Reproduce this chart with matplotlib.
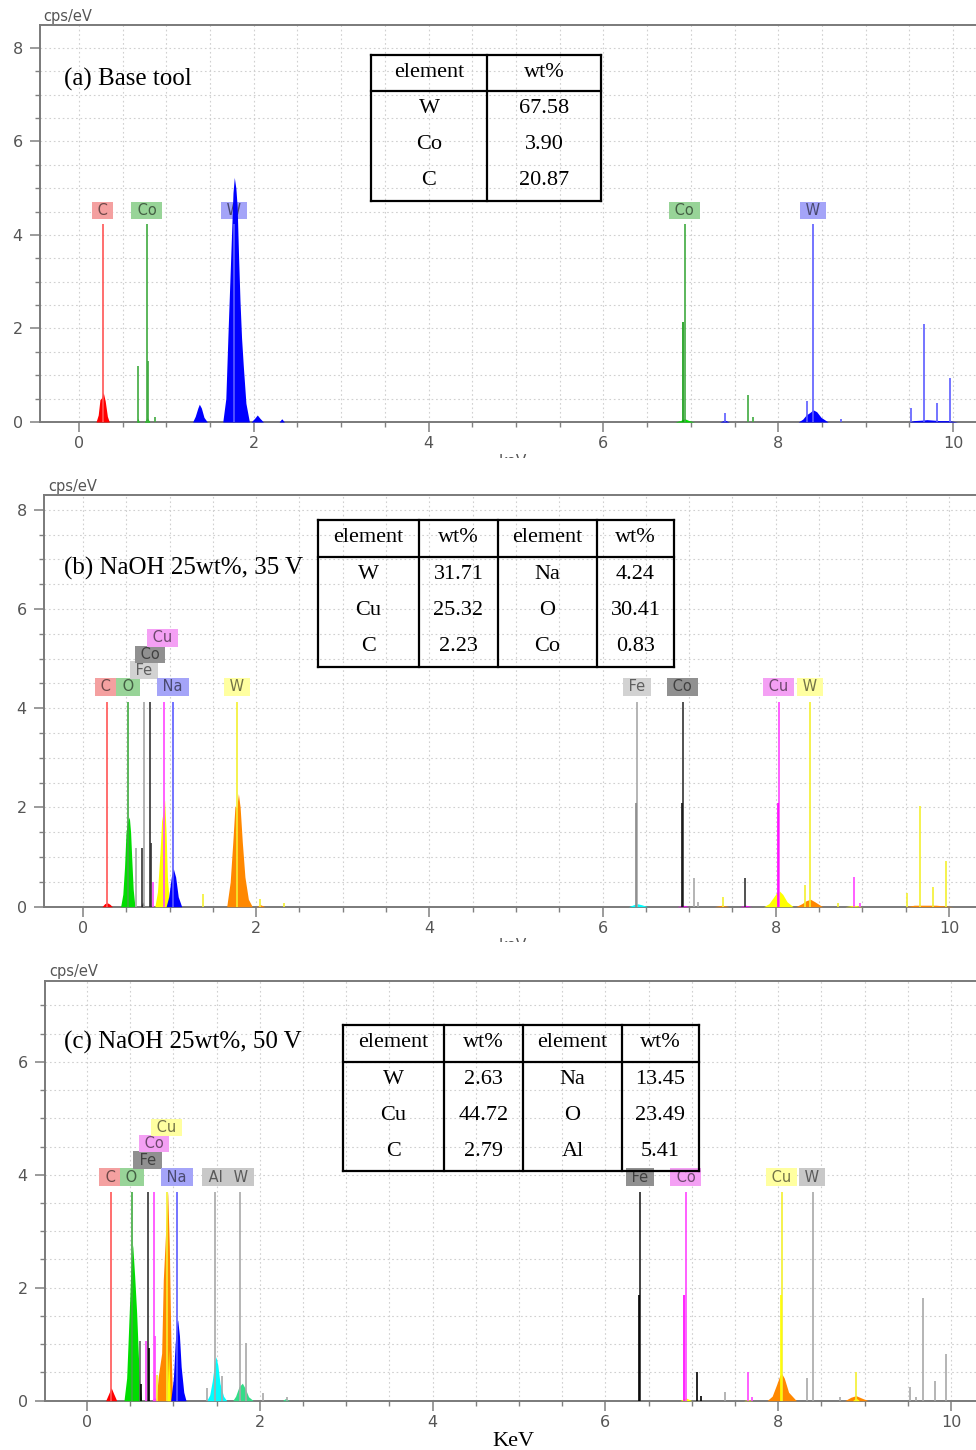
import matplotlib.pyplot as plt
import matplotlib.colors as mcolors
from matplotlib.lines import Line2D
from matplotlib.ticker import MultipleLocator
from matplotlib.transforms import Bbox, TransformedBbox

# ---------------- colours used by the EDS software ----------------
RED, GREEN, BLUE = "#ff0000", "#00dd00", "#0000ff"
ORANGE, YELLOW, CYAN = "#ff8800", "#ffff00", "#00ffff"
MAGENTA, BLACK, TEAL = "#ff00ff", "#000000", "#33dd88"

L_RED, L_GREEN, L_BLUE = "#ff5555", "#3faa3f", "#5c5cff"
L_GRAY, L_DARK, L_MAG, L_YEL = "#a8a8a8", "#333333", "#ff44ff", "#f4f030"

B_PINK, B_GREEN, B_BLUE = "#f4a0a0", "#98d498", "#a4a4f8"
B_LGRAY, B_DGRAY, B_MAG, B_YEL, B_GRAY = "#d2d2d2", "#909090", "#f4a0f4", "#ffffa0", "#c8c8c8"

# ---------------- (a) Base tool ----------------
a_peaks = [
    (RED, [0.195, 0.22, 0.24, 0.26, 0.278, 0.30, 0.325, 0.347], [0, 0.15, 0.48, 0.52, 0.63, 0.45, 0.12, 0]),
    (GREEN, [0.66, 0.675, 0.69], [0, 0.08, 0]),
    (GREEN, [0.75, 0.78, 0.81], [0, 0.1, 0]),
    (BLUE, [1.30, 1.33, 1.36, 1.377, 1.40, 1.43, 1.468], [0, 0.12, 0.3, 0.38, 0.3, 0.1, 0]),
    (BLUE, [1.645, 1.68, 1.708, 1.73, 1.746, 1.762, 1.777, 1.795, 1.81, 1.825, 1.842, 1.86, 1.88, 1.91, 1.95],
     [0, 0.5, 2.05, 3.2, 4.05, 4.9, 5.23, 5.0, 4.6, 3.6, 2.6, 1.8, 1.2, 0.4, 0]),
    (BLUE, [1.97, 2.01, 2.04, 2.07, 2.11], [0, 0.08, 0.15, 0.08, 0]),
    (BLUE, [2.29, 2.32, 2.35], [0, 0.07, 0]),
    (GREEN, [6.82, 6.88, 6.93, 6.98, 7.04], [0, 0.03, 0.07, 0.03, 0]),
    (BLUE, [7.33, 7.39, 7.44], [0, 0.04, 0]),
    (BLUE, [8.23, 8.28, 8.32, 8.36, 8.40, 8.44, 8.49, 8.57], [0, 0.06, 0.15, 0.2, 0.26, 0.22, 0.1, 0]),
    (BLUE, [9.50, 9.55, 9.65, 9.70, 9.85, 9.95, 10.05], [0, 0.03, 0.04, 0.05, 0.03, 0.03, 0]),
]
a_lines = [
    (0.277, 4.24, L_RED),
    (0.776, 4.24, L_GREEN), (0.678, 1.20, L_GREEN), (0.791, 1.30, L_GREEN), (0.87, 0.10, L_GREEN),
    (1.775, 4.24, L_BLUE),
    (6.93, 4.24, L_GREEN), (6.915, 2.14, "#119911"), (7.649, 0.58, L_GREEN), (7.71, 0.10, L_GREEN),
    (8.398, 4.24, L_BLUE), (8.335, 0.45, L_BLUE), (7.387, 0.19, L_BLUE), (8.72, 0.07, L_BLUE),
    (9.52, 0.29, L_BLUE), (9.67, 2.09, L_BLUE), (9.82, 0.41, L_BLUE), (9.96, 0.95, L_BLUE),
]
a_labels = [
    ("C", 0.27, 4.53, B_PINK), ("Co", 0.776, 4.53, B_GREEN), ("W", 1.775, 4.53, B_BLUE),
    ("Co", 6.93, 4.53, B_GREEN), ("W", 8.40, 4.53, B_BLUE),
]
a_elements = ["W", "Co", "C"]
a_wt = ["67.58", "3.90", "20.87"]

# ---------------- (b) NaOH 25wt%, 35 V ----------------
b_peaks = [
    (RED, [0.22, 0.25, 0.28, 0.31, 0.34], [0, 0.06, 0.08, 0.05, 0]),
    (GREEN, [0.435, 0.46, 0.48, 0.497, 0.515, 0.535, 0.55, 0.565, 0.58, 0.60],
     [0, 0.25, 0.8, 1.5, 1.7, 1.81, 1.5, 0.9, 0.35, 0]),
    (BLACK, [0.67, 0.69, 0.71], [0, 0.1, 0]),
    (YELLOW, [0.83, 0.86, 0.89, 0.908, 0.925, 0.943, 0.96, 0.975, 1.0], [0, 0.3, 1.1, 1.73, 1.9, 2.15, 1.5, 0.6, 0]),
    (BLUE, [0.96, 0.99, 1.02, 1.043, 1.07, 1.10, 1.14], [0, 0.2, 0.6, 0.77, 0.6, 0.2, 0]),
    (ORANGE, [1.66, 1.70, 1.73, 1.755, 1.775, 1.795, 1.815, 1.84, 1.87, 1.91, 1.955],
     [0, 0.5, 1.3, 2.03, 2.0, 2.28, 2.0, 1.3, 0.6, 0.15, 0]),
    (ORANGE, [2.0, 2.05, 2.1], [0, 0.04, 0]),
    (CYAN, [6.30, 6.36, 6.40, 6.45, 6.52], [0, 0.04, 0.06, 0.04, 0]),
    (MAGENTA, [6.86, 6.93, 7.0], [0, 0.03, 0]),
    (ORANGE, [7.29, 7.38, 7.46], [0, 0.03, 0]),
    (MAGENTA, [7.58, 7.65, 7.72], [0, 0.03, 0]),
    (YELLOW, [7.86, 7.92, 7.97, 8.01, 8.04, 8.08, 8.13, 8.20], [0, 0.06, 0.18, 0.28, 0.32, 0.25, 0.1, 0]),
    (ORANGE, [8.23, 8.30, 8.35, 8.40, 8.45, 8.54], [0, 0.06, 0.12, 0.15, 0.1, 0]),
    (YELLOW, [8.80, 8.90, 9.00], [0, 0.03, 0]),
    (ORANGE, [9.50, 9.60, 9.70, 9.85, 10.05], [0, 0.03, 0.03, 0.03, 0]),
]
b_lines = [
    (0.277, 4.13, L_RED), (0.525, 4.13, L_GREEN),
    (0.705, 4.13, L_GRAY), (0.615, 1.18, L_GRAY),
    (0.776, 4.13, L_DARK), (0.678, 1.18, L_DARK), (0.791, 1.29, L_DARK),
    (0.930, 4.13, L_MAG), (0.811, 0.50, L_MAG),
    (1.041, 4.13, L_BLUE),
    (1.775, 4.13, L_YEL), (1.39, 0.25, L_YEL), (2.04, 0.15, L_YEL), (2.32, 0.07, L_YEL),
    (6.40, 4.13, L_GRAY), (6.39, 2.10, "#888888"), (7.058, 0.57, L_GRAY), (7.10, 0.10, L_GRAY),
    (6.93, 4.13, L_DARK), (6.915, 2.10, "#111111"), (7.649, 0.57, L_DARK),
    (8.04, 4.13, L_MAG), (8.03, 2.10, MAGENTA), (8.905, 0.59, L_MAG), (8.97, 0.08, L_MAG),
    (8.398, 4.13, L_YEL), (7.387, 0.19, L_YEL), (8.335, 0.44, L_YEL), (8.72, 0.08, L_YEL),
    (9.52, 0.27, L_YEL), (9.67, 2.03, L_YEL), (9.82, 0.40, L_YEL), (9.96, 0.92, L_YEL),
]
b_labels = [
    ("C", 0.266, 4.43, B_PINK), ("O", 0.52, 4.43, B_GREEN), ("Fe", 0.704, 4.77, B_LGRAY),
    ("Co", 0.774, 5.08, B_DGRAY), ("Cu", 0.92, 5.42, B_MAG), ("Na", 1.04, 4.43, B_BLUE),
    ("W", 1.78, 4.43, B_YEL), ("Fe", 6.40, 4.43, B_LGRAY), ("Co", 6.92, 4.43, B_DGRAY),
    ("Cu", 8.03, 4.43, B_MAG), ("W", 8.39, 4.43, B_YEL),
]
b_elements_1 = ["W", "Cu", "C"]
b_wt_1 = ["31.71", "25.32", "2.23"]
b_elements_2 = ["Na", "O", "Co"]
b_wt_2 = ["4.24", "30.41", "0.83"]

# ---------------- (c) NaOH 25wt%, 50 V ----------------
c_peaks = [
    (RED, [0.216, 0.25, 0.28, 0.31, 0.344], [0, 0.12, 0.23, 0.12, 0]),
    (GREEN, [0.428, 0.459, 0.478, 0.505, 0.529, 0.552, 0.575, 0.606, 0.633], [0, 0.4, 1.13, 2.2, 2.76, 2.2, 1.55, 0.37, 0]),
    (MAGENTA, [0.75, 0.78, 0.81], [0, 0.06, 0]),
    (ORANGE, [0.80, 0.825, 0.864, 0.883, 0.911, 0.934, 0.953, 0.972, 0.99], [0, 0.43, 0.84, 2.14, 3.02, 3.70, 2.73, 0.96, 0]),
    (YELLOW, [0.925, 0.945, 0.965], [0, 0.9, 0]),
    (BLUE, [0.969, 1.0, 1.02, 1.04, 1.05, 1.07, 1.09, 1.12, 1.146], [0, 0.4, 1.0, 1.38, 1.43, 1.15, 0.6, 0.15, 0]),
    (CYAN, [1.385, 1.42, 1.45, 1.475, 1.493, 1.515, 1.54, 1.58, 1.617], [0, 0.1, 0.35, 0.65, 0.78, 0.62, 0.3, 0.08, 0]),
    (TEAL, [1.686, 1.72, 1.76, 1.798, 1.83, 1.87, 1.925], [0, 0.08, 0.25, 0.31, 0.22, 0.07, 0]),
    (TEAL, [2.26, 2.30, 2.34], [0, 0.04, 0]),
    (YELLOW, [6.86, 6.93, 7.0], [0, 0.05, 0]),
    (YELLOW, [7.60, 7.65, 7.70], [0, 0.02, 0]),
    (ORANGE, [7.87, 7.93, 7.98, 8.02, 8.04, 8.07, 8.12, 8.21], [0, 0.08, 0.28, 0.45, 0.48, 0.4, 0.15, 0]),
    (ORANGE, [8.77, 8.84, 8.90, 8.96, 9.04], [0, 0.06, 0.09, 0.05, 0]),
    (YELLOW, [8.86, 8.90, 8.94], [0, 0.05, 0]),
]
c_lines = [
    (0.277, 3.70, L_RED), (0.525, 3.70, L_GREEN),
    (0.705, 3.70, L_DARK), (0.615, 1.06, "#666666"), (0.625, 0.30, BLACK), (0.718, 0.93, BLACK),
    (0.776, 3.70, L_MAG), (0.678, 1.06, L_MAG), (0.791, 1.15, L_MAG),
    (0.930, 3.70, L_YEL), (0.811, 0.45, L_YEL),
    (1.041, 3.70, L_BLUE),
    (1.486, 3.70, L_GRAY), (1.557, 0.44, L_GRAY),
    (1.775, 3.70, L_GRAY), (1.835, 1.03, L_GRAY), (1.385, 0.22, L_GRAY), (2.035, 0.13, L_GRAY), (2.31, 0.07, L_GRAY),
    (6.40, 3.70, "#222222"), (6.39, 1.87, BLACK), (7.058, 0.51, BLACK), (7.11, 0.08, BLACK),
    (6.93, 3.70, L_MAG), (6.915, 1.87, MAGENTA), (7.649, 0.51, L_MAG), (7.70, 0.06, L_MAG),
    (8.04, 3.70, L_YEL), (8.03, 1.87, YELLOW), (8.905, 0.51, L_YEL),
    (8.398, 3.70, L_GRAY), (7.387, 0.16, L_GRAY), (8.335, 0.40, L_GRAY), (8.72, 0.06, L_GRAY),
    (9.52, 0.25, L_GRAY), (9.60, 0.06, L_GRAY), (9.67, 1.82, L_GRAY), (9.81, 0.35, L_GRAY), (9.94, 0.82, L_GRAY),
]
c_labels = [
    ("C", 0.27, 3.96, B_PINK), ("O", 0.52, 3.96, B_GREEN), ("Fe", 0.70, 4.26, B_DGRAY),
    ("Co", 0.775, 4.55, B_MAG), ("Cu", 0.92, 4.84, B_YEL), ("Na", 1.04, 3.96, B_BLUE),
    ("Al", 1.485, 3.96, B_GRAY), ("W", 1.78, 3.96, B_GRAY),
    ("Fe", 6.40, 3.96, B_DGRAY), ("Co", 6.93, 3.96, B_MAG), ("Cu", 8.04, 3.96, B_YEL), ("W", 8.39, 3.96, B_GRAY),
]
c_elements_1 = ["W", "Cu", "C"]
c_wt_1 = ["2.63", "44.72", "2.79"]
c_elements_2 = ["Na", "O", "Al"]
c_wt_2 = ["13.45", "23.49", "5.41"]

# ---------------- figure ----------------
W, H = 976, 1450
SERIF = "Liberation Serif"
fig = plt.figure(figsize=(W / 100, H / 100), dpi=100)


def fy(py):
    return 1 - py / H


def draw_panel(rect, xlim, ylim, peaks, lines, labels):
    left, top, right, bottom = rect
    ax = fig.add_axes([left / W, 1 - bottom / H, (right - left) / W, (bottom - top) / H])
    ax.set_xlim(*xlim)
    ax.set_ylim(*ylim)
    for color, xs, ys in peaks:
        ax.fill_between(xs, ys, 0, color=color, lw=0, zorder=3)
    for x, h, color in lines:
        ax.vlines(x, 0, h, colors=color, lw=1.2, zorder=4)
    for name, x, y, box in labels:
        dark = tuple(v * 0.45 for v in mcolors.to_rgb(box))
        ax.text(x, y, " " + name + " ", ha="center", va="center", fontsize=10.5, color=dark,
                bbox=dict(boxstyle="square,pad=0.08", fc=box, ec="none"), zorder=2)
    for axis in (ax.xaxis, ax.yaxis):
        axis.set_major_locator(MultipleLocator(2))
        axis.set_minor_locator(MultipleLocator(0.5))
    ax.grid(which="both", ls=(0, (1.5, 2.5)), color="#d0d0d0", lw=0.8)
    ax.set_axisbelow(True)
    ax.tick_params(which="major", length=7, width=1.1, color="#808080", labelcolor="#555555",
                   labelsize=11.5, direction="out")
    ax.tick_params(which="minor", length=3.5, width=1.0, color="#808080", direction="out")
    ax.tick_params(axis="x", pad=3)
    ax.tick_params(axis="y", pad=5.5)
    ax.spines["right"].set_visible(False)
    for s in ("left", "bottom", "top"):
        ax.spines[s].set_color("#7a7a7a")
        ax.spines[s].set_linewidth(1.4)
    return ax


def draw_table(x_edges, y_top, y_head, y_bot, columns, baselines):
    kw = dict(color="black", lw=1.6, transform=fig.transFigure)
    for x in x_edges:
        fig.add_artist(Line2D([x / W, x / W], [fy(y_top), fy(y_bot)], **kw))
    for y in (y_top, y_head, y_bot):
        fig.add_artist(Line2D([x_edges[0] / W, x_edges[-1] / W], [fy(y), fy(y)], **kw))
    for i, col in enumerate(columns):
        cx = (x_edges[i] + x_edges[i + 1]) / 2 / W
        for txt, by in zip(col, baselines):
            fig.text(cx, fy(by), txt, ha="center", va="baseline", fontsize=16, family=SERIF)


def cut_xlabel(y_base, y_clip):
    t = fig.text(513 / W, fy(y_base), "keV", ha="center", va="baseline", fontsize=11, color="#555555")
    t.set_clip_box(TransformedBbox(Bbox.from_extents(0, fy(y_clip), 1, 1), fig.transFigure))
    t.set_clip_on(True)


# (a)
draw_panel((40, 25, 976, 422), (-0.446, 10.263), (0, 8.49), a_peaks, a_lines, a_labels)
fig.text(43 / W, fy(21), "cps/eV", fontsize=10.5, color="#555555", va="baseline")
fig.text(64 / W, fy(86), "(a) Base tool", fontsize=18, family=SERIF, va="baseline")
draw_table([371, 487, 601], 55, 91, 201,
           [["element"] + a_elements, ["wt%"] + a_wt], [77, 113, 149, 185])
cut_xlabel(466, 458)

# (b)
draw_panel((44, 495, 976, 906.7), (-0.450, 10.312), (0, 8.30), b_peaks, b_lines, b_labels)
fig.text(48 / W, fy(491), "cps/eV", fontsize=10.5, color="#555555", va="baseline")
fig.text(64 / W, fy(575), "(b) NaOH 25wt%, 35 V", fontsize=18, family=SERIF, va="baseline")
draw_table([318, 419, 498, 597, 674], 520, 557, 667,
           [["element"] + b_elements_1, ["wt%"] + b_wt_1, ["element"] + b_elements_2, ["wt%"] + b_wt_2],
           [542, 579, 615, 651])
cut_xlabel(950, 942)

# (c)
draw_panel((45, 981, 976, 1400.7), (-0.486, 10.289), (0, 7.43), c_peaks, c_lines, c_labels)
fig.text(49 / W, fy(976), "cps/eV", fontsize=10.5, color="#555555", va="baseline")
fig.text(64 / W, fy(1049), "(c) NaOH 25wt%, 50 V", fontsize=18, family=SERIF, va="baseline")
draw_table([343, 444, 523, 622, 699], 1025, 1062, 1171,
           [["element"] + c_elements_1, ["wt%"] + c_wt_1, ["element"] + c_elements_2, ["wt%"] + c_wt_2],
           [1047, 1084, 1120, 1156])
fig.text(513 / W, fy(1446), "KeV", ha="center", va="baseline", fontsize=16, family=SERIF)

fig.savefig("out.png", dpi=100)
